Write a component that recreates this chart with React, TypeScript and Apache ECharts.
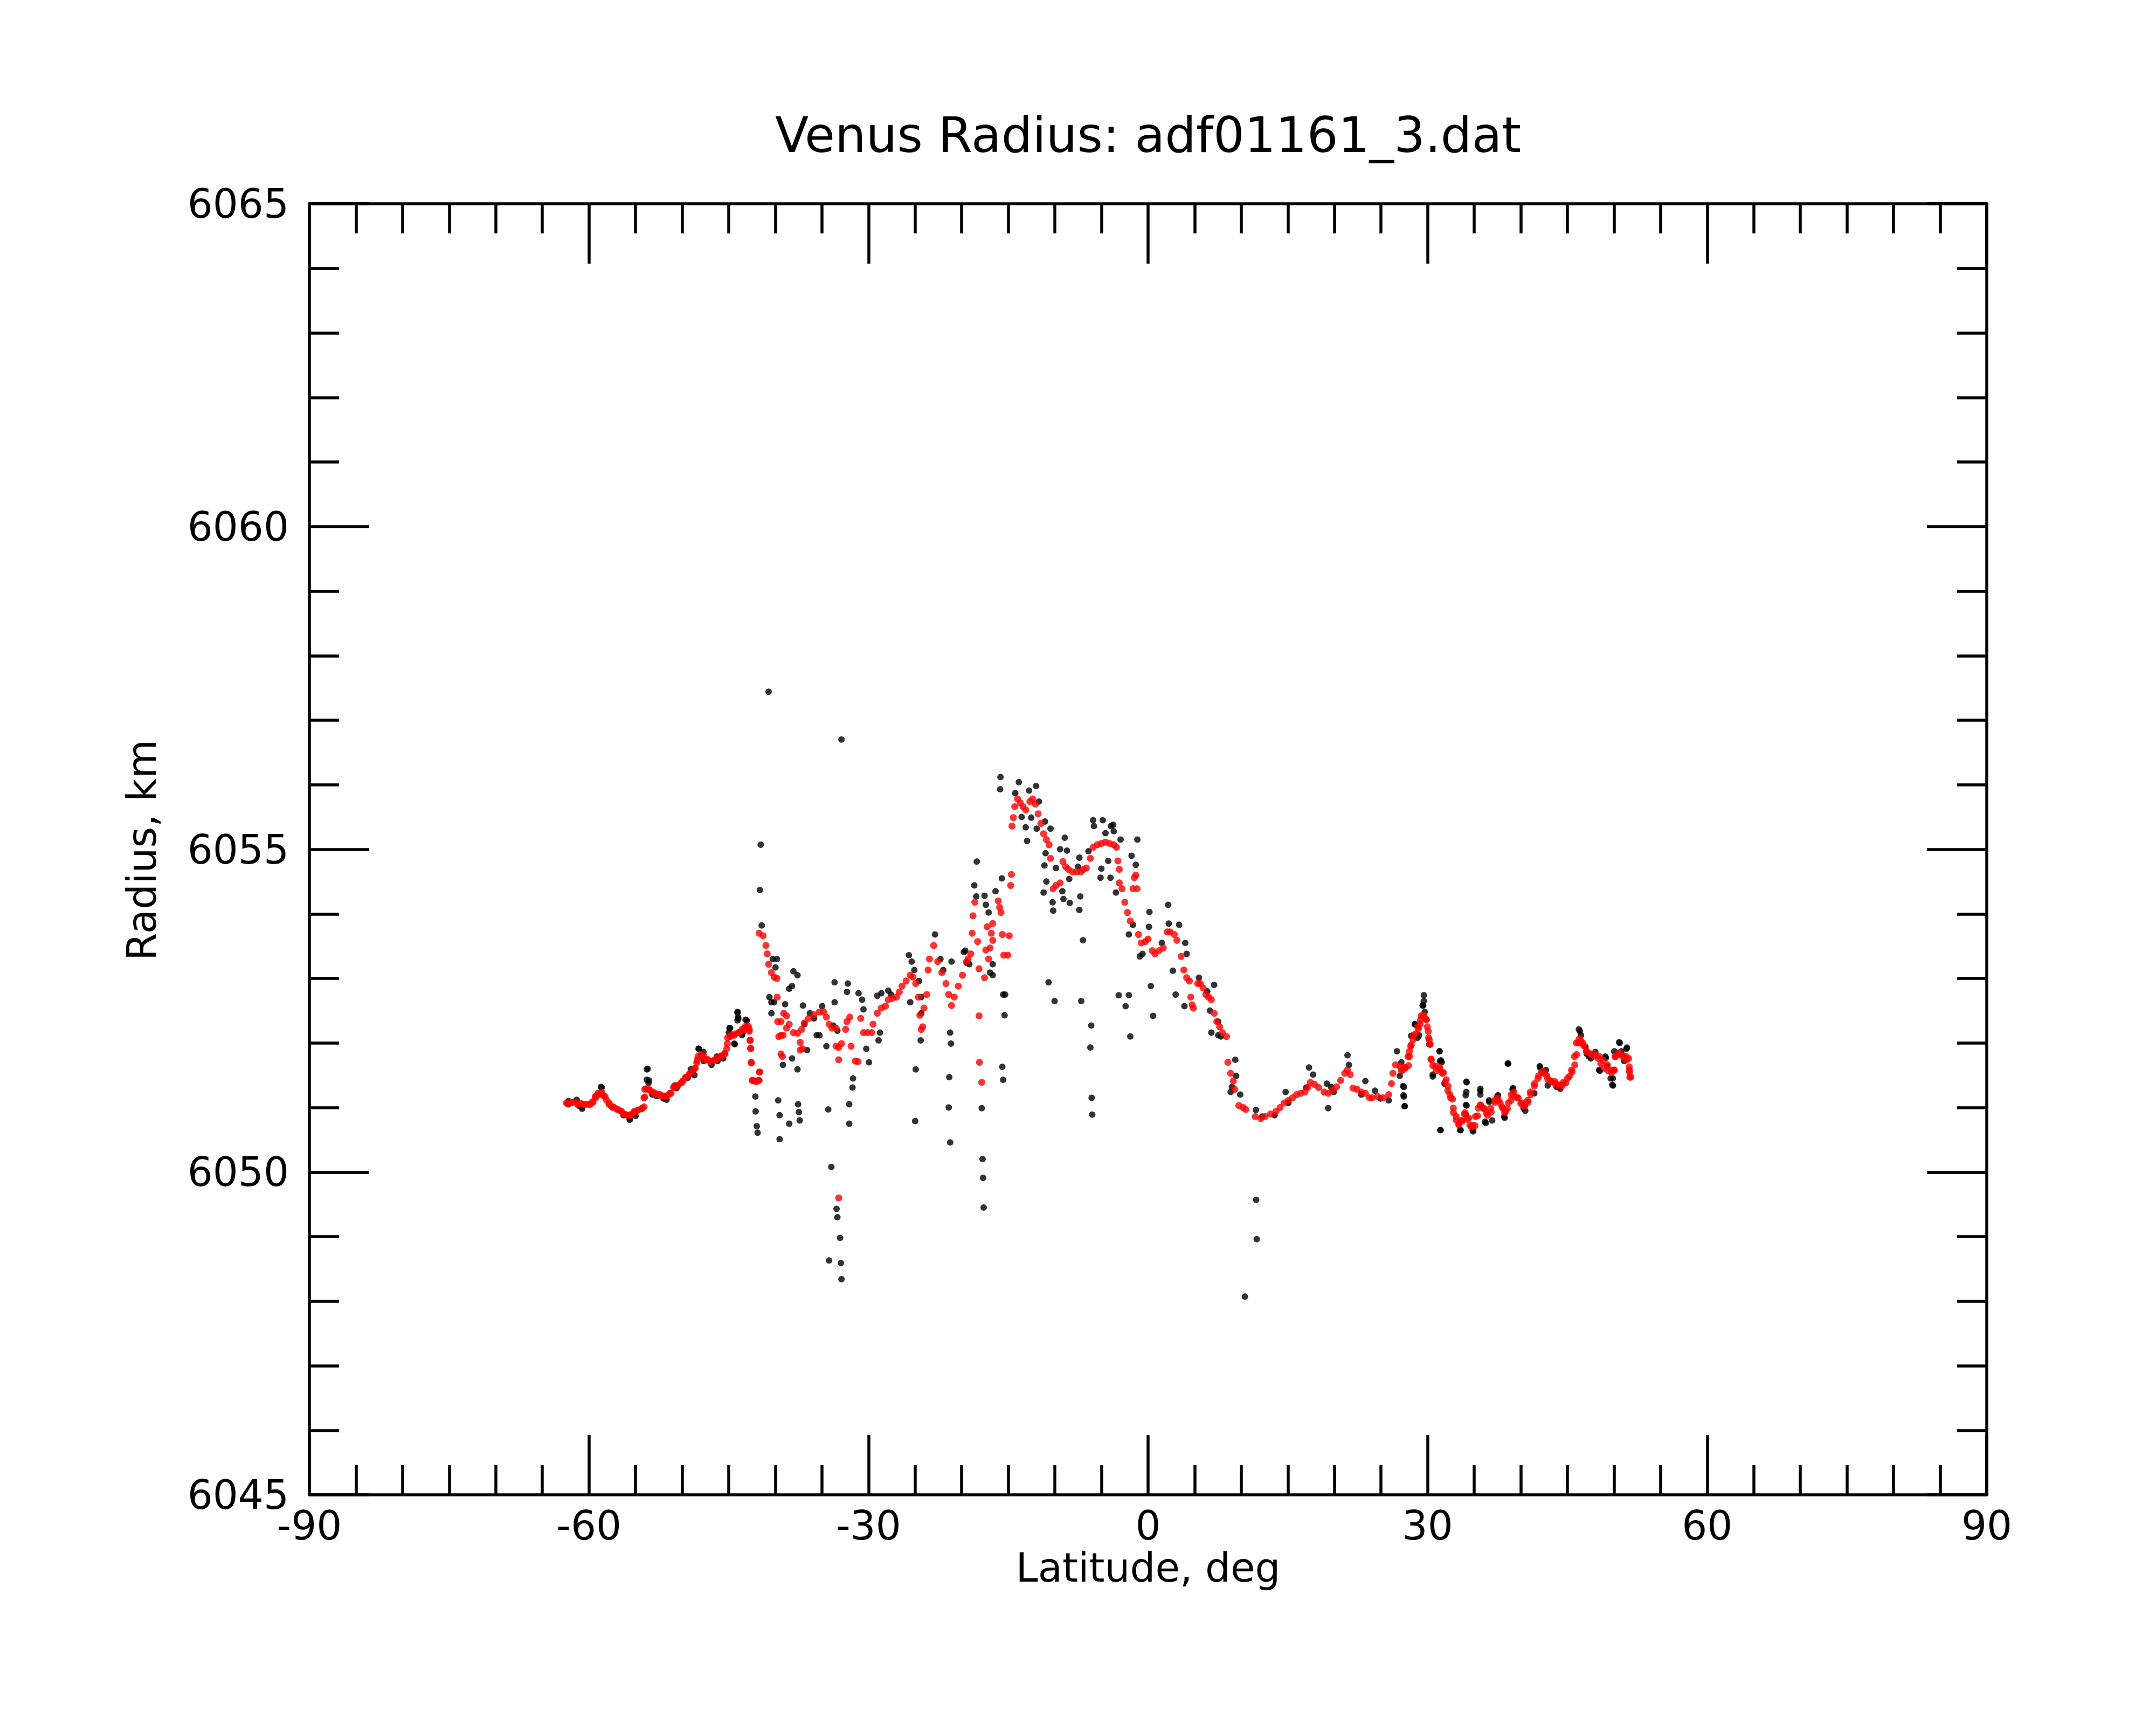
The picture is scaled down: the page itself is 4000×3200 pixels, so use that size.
import React, { useEffect, useRef } from "react";
import * as echarts from "echarts";

const titleText = "Venus Radius: adf01161_3.dat";
const xLabel = "Latitude, deg";
const yLabel = "Radius, km";

// Red (smoothed) trace, [latitude, radius]
const redSouth: number[][] = [
  [-62.41,6051.07],[-61.82,6051.08],[-61.23,6051.05],[-60.64,6051.05],[-60.05,6051.05],[-59.61,6051.09],[-59.31,6051.17],[-59.02,6051.22],[-58.63,6051.24],[-58.28,6051.17],[-57.84,6051.07],[-57.39,6051.01],[-56.95,6050.97],[-56.51,6050.94],[-56.06,6050.89],[-55.62,6050.88],[-55.18,6050.92],[-54.74,6050.96],[-54.29,6050.99],[-54.09,6051.15],[-54.0,6051.28],[-53.56,6051.28],[-52.97,6051.22],[-52.38,6051.2],[-51.79,6051.17],[-51.34,6051.22],[-50.9,6051.31],[-50.46,6051.34],[-50.01,6051.39],[-49.57,6051.47],[-49.13,6051.53],[-48.69,6051.6],[-48.39,6051.73],[-47.95,6051.79],[-47.51,6051.74],[-47.06,6051.72],[-46.47,6051.74],[-45.88,6051.79],[-45.44,6051.84],[-45.15,6051.99],[-44.85,6052.1],[-44.41,6052.12],[-43.82,6052.16],[-43.38,6052.21],[-43.08,6052.25],[-42.79,6052.21],[-42.7,6052.04],[-42.64,6051.91],[-42.58,6051.7],[-42.49,6051.42],[-42.2,6051.41],[-41.81,6051.42],[-41.69,6051.55]
];

const redSouthB: number[][] = [
  [-62.28,6051.06],[-61.79,6051.08],[-61.31,6051.07],[-60.83,6051.06],[-60.35,6051.05],[-59.87,6051.05],[-59.58,6051.08],[-59.29,6051.15],[-59.0,6051.2],[-58.71,6051.21],[-58.42,6051.18],[-58.13,6051.12],[-57.84,6051.05],[-57.45,6051.0],[-57.07,6050.98],[-56.66,6050.95],[-56.3,6050.9],[-55.91,6050.88],[-55.53,6050.89],[-55.14,6050.94],[-54.76,6050.96],[-54.37,6050.98],[-54.08,6051.01],[-54.02,6051.16],[-53.89,6051.29],[-53.5,6051.27],[-53.12,6051.24],[-52.73,6051.21],[-52.35,6051.19],[-51.96,6051.18],[-51.57,6051.18],[-51.19,6051.22],[-50.9,6051.32],[-50.51,6051.34],[-50.13,6051.38],[-49.94,6051.41],[-49.65,6051.46],[-49.26,6051.51],[-48.88,6051.55],[-48.59,6051.61],[-48.43,6051.69],[-48.3,6051.79],[-48.01,6051.82],[-47.72,6051.81],[-47.33,6051.75],[-46.95,6051.72],[-46.56,6051.73],[-46.18,6051.77],[-45.79,6051.8],[-45.41,6051.83],[-45.21,6051.91],[-45.12,6052.08],[-44.73,6052.12],[-44.35,6052.14],[-43.96,6052.16],[-43.57,6052.21],[-43.19,6052.26],[-42.9,6052.26],[-42.8,6052.18],[-42.71,6052.04],[-42.65,6051.92],[-42.57,6051.69],[-42.42,6051.42],[-42.03,6051.4],[-41.74,6051.42],[-41.68,6051.55]
];

const redRough: number[][] = [
  [-41.75,6053.7],[-41.31,6053.66],[-41.01,6053.51],[-40.87,6053.38],[-40.72,6053.22],[-40.42,6053.09],[-40.13,6053.02],[-39.83,6053.0],[-39.8,6052.71],[-39.75,6052.33],[-39.63,6052.1],[-39.39,6051.83],[-39.39,6052.33],[-39.1,6052.46],[-38.8,6052.42],[-38.51,6052.29],[-38.06,6052.16],[-37.62,6052.15],[-37.18,6052.21],[-36.88,6052.31],[-36.44,6052.38],[-35.85,6052.44],[-35.26,6052.48],[-34.82,6052.48],[-34.52,6052.4],[-34.23,6052.29],[-33.93,6052.23],[-33.49,6052.23],
  [-39.39,6052.12],[-39.16,6052.12],[-39.24,6051.79],[-38.8,6052.23],[-37.33,6052.01],[-37.09,6051.91],[-37.33,6051.89],[-33.49,6051.95],[-33.2,6051.93],[-33.2,6051.74],[-32.9,6051.99],[-32.46,6052.21],[-32.31,6052.33],[-32.01,6052.4],[-31.87,6051.95],[-31.42,6051.72],[-31.13,6051.71],[-30.83,6052.38],[-30.54,6052.16],[-30.1,6052.16],[-29.65,6052.16],[-33.2,6049.6],
  [-29.51,6052.29],[-29.06,6052.46],[-28.62,6052.54],[-28.18,6052.57],[-27.88,6052.67],[-27.44,6052.69],[-27.0,6052.71],[-26.7,6052.79],[-26.41,6052.88],[-25.96,6052.96],[-25.52,6053.05],[-25.23,6053.02],[-24.93,6052.92],[-24.64,6052.71],[-24.49,6052.43],[-24.34,6052.21],[-24.19,6052.25],[-24.05,6052.54],[-23.75,6052.75],[-23.6,6053.13],[-23.46,6053.3],[-23.01,6053.51],[-22.57,6053.26],[-22.13,6053.09],[-21.69,6052.92],[-21.39,6052.75],[-21.09,6052.58],[-20.8,6052.71],[-20.36,6052.88],[-19.92,6053.05],[-19.47,6053.26]
];

const redEquator: number[][] = [
  [-19.32,6053.3],[-19.03,6053.38],[-18.88,6053.7],[-18.79,6053.97],[-18.59,6054.18],[-18.29,6053.57],[-18.14,6053.15],[-18.14,6052.42],[-18.09,6051.7],[-17.85,6051.39],[-17.55,6053.01],[-17.41,6053.44],[-17.26,6053.8],[-16.96,6053.47],[-16.82,6053.7],[-17.11,6053.3],[-16.67,6053.59],[-16.67,6053.85],[-16.08,6054.2],[-15.93,6054.1],[-15.78,6054.02],[-15.64,6053.68],[-15.49,6053.36],[-15.05,6053.36],[-14.9,6053.66],[-14.75,6054.44],[-14.66,6054.61],[-14.6,6055.36],[-14.46,6055.49],[-14.31,6055.66],[-14.01,6055.78],[-13.72,6055.72],[-13.42,6055.66],[-13.13,6055.61],[-12.68,6055.74],[-12.39,6055.78],[-12.09,6055.7],[-11.8,6055.55],[-11.5,6055.4],[-11.21,6055.24],[-10.91,6055.15],[-10.62,6055.07],[-10.47,6054.86],[-10.18,6054.39],[-9.88,6054.44],[-9.44,6054.48],[-9.14,6054.81],[-8.85,6054.73],[-8.55,6054.69],[-8.11,6054.65],[-7.67,6054.65],[-7.22,6054.65],[-6.93,6054.69],[-6.63,6054.71],[-6.19,6054.86],[-5.9,6055.03],[-5.45,6055.07],[-5.01,6055.09],[-4.57,6055.11],[-4.13,6055.09],[-3.68,6055.07],[-3.39,6055.03],[-3.24,6054.82],[-3.09,6054.69],[-3.09,6054.48],[-2.8,6054.39],[-2.5,6054.18],[-2.21,6054.02],[-1.91,6053.89],[-1.62,6054.39],[-1.47,6054.56],[-1.32,6054.6],[-1.18,6054.39],[-1.03,6053.68],[-0.73,6053.55],[-0.29,6053.57],[0.0,6053.61],[0.45,6053.43],[0.74,6053.38],[1.19,6053.43],[1.63,6053.47],[2.07,6053.72],[2.37,6053.72],[2.81,6053.68],[3.1,6053.59],[3.55,6053.34],[3.84,6053.13],[4.14,6053.01],[4.43,6052.96],[4.58,6052.71],[4.73,6052.59],[4.87,6052.54],[5.32,6052.92],[5.61,6052.92],[5.91,6052.85],[6.2,6052.75],[6.5,6052.71],[6.79,6052.67],[7.09,6052.46],[7.38,6052.33],[7.68,6052.25],[7.97,6052.16],[8.42,6052.1],[8.56,6051.7],[8.86,6051.53],[9.15,6051.41],[9.3,6051.28],[9.74,6051.03],[10.19,6051.0],[10.48,6050.97],[11.51,6050.86],[12.1,6050.83],[12.55,6050.86],[13.14,6050.9],[13.73,6050.94],[14.17,6051.0],[14.61,6051.07],[15.06,6051.11],[15.5,6051.15],[15.94,6051.2],[16.38,6051.22],[16.83,6051.24],[17.12,6051.31],[17.42,6051.39],[17.86,6051.36],[18.3,6051.31],[18.89,6051.24],[19.33,6051.22],[19.78,6051.26],[20.22,6051.32],[20.66,6051.42],[21.1,6051.53],[21.4,6051.58],[21.69,6051.51],[21.99,6051.3],[22.43,6051.28],[22.88,6051.24],[23.32,6051.22],[23.76,6051.15]
];

const redNorth: number[][] = [
  [24.06,6051.15],[24.65,6051.17],[25.24,6051.15],[25.83,6051.2],[26.12,6051.37],[26.27,6051.53],[26.56,6051.66],[27.01,6051.64],[27.3,6051.58],[27.6,6051.62],[27.89,6051.79],[28.19,6051.95],[28.48,6052.12],[28.93,6052.25],[29.22,6052.35],[29.52,6052.42],[29.81,6052.37],[29.96,6052.25],[30.11,6052.08],[30.25,6051.98],[30.4,6051.74],[30.84,6051.64],[31.29,6051.62],[31.58,6051.53],[31.88,6051.39],[32.17,6051.26],[32.47,6051.15],[32.76,6050.99],[33.06,6050.86],[33.35,6050.75],[33.65,6050.8],[33.94,6050.9],[34.24,6050.82],[34.53,6050.73],[34.83,6050.72],[35.12,6050.86],[35.42,6050.99],[35.71,6051.03],[36.01,6050.99],[36.3,6050.92],[36.75,6050.99],[37.19,6051.11],[37.48,6051.15],[37.78,6051.07],[38.07,6050.99],[38.37,6050.94],[38.66,6051.07],[38.96,6051.2],[39.25,6051.24],[39.7,6051.15],[40.14,6051.07],[40.43,6051.03],[40.73,6051.11],[41.02,6051.24],[41.47,6051.37],[41.91,6051.49],[42.35,6051.56],[42.79,6051.49],[43.24,6051.41],[43.68,6051.37],[44.12,6051.35],[44.57,6051.39],[45.01,6051.45],[45.45,6051.58],[45.75,6051.79],[45.95,6052.0],[46.25,6052.06],[46.63,6052.0],[47.07,6051.87],[47.52,6051.83],[47.96,6051.83],[48.4,6051.79],[48.84,6051.73],[49.29,6051.66],[49.73,6051.58],[50.02,6051.58],[50.17,6051.79],[50.61,6051.83],[51.06,6051.79],[51.35,6051.74],[51.65,6051.58],[51.8,6051.47]
];

const redNorthB: number[][] = [
  [27.18,6051.57],[27.57,6051.61],[27.95,6051.65],[28.05,6051.79],[28.05,6051.87],[28.24,6051.97],[28.43,6052.05],[28.72,6052.14],[29.01,6052.22],[29.2,6052.29],[29.3,6052.42],[29.59,6052.43],[29.88,6052.36],[30.07,6052.18],[30.17,6052.05],[30.26,6051.98],[30.36,6051.75],[30.55,6051.65],[30.94,6051.57],[31.33,6051.59],[31.71,6051.54],[32.0,6051.43],[32.19,6051.33],[32.39,6051.2],[32.67,6051.13],[32.77,6050.92],[33.06,6050.81],[33.35,6050.73],[33.74,6050.79],[34.02,6050.92],[34.41,6050.84],[34.7,6050.7],[35.08,6050.72],[35.37,6050.87],[35.66,6051.04],[36.05,6050.98],[36.43,6050.88],[36.82,6050.93],[37.21,6051.08],[37.59,6051.11],[37.98,6051.01],[38.27,6050.92],[38.56,6050.98],[38.94,6051.11],[39.23,6051.19],[39.62,6051.15],[40.0,6051.06],[40.39,6051.02],[40.77,6051.08],[41.06,6051.2],[41.45,6051.33],[41.83,6051.45],[42.22,6051.54],[42.6,6051.52],[42.89,6051.44],[43.28,6051.4],[43.66,6051.4],[44.05,6051.34],[44.44,6051.34],[44.82,6051.38],[45.21,6051.48],[45.5,6051.55],[45.79,6051.66],[45.98,6051.82],[46.17,6052.0],[46.46,6052.03],[46.75,6051.96],[47.04,6051.87],[47.42,6051.83],[47.91,6051.8],[48.29,6051.76],[48.58,6051.68],[48.97,6051.61],[49.35,6051.57],[49.74,6051.54],[50.03,6051.58],[50.12,6051.79],[50.51,6051.84],[50.89,6051.8],[51.28,6051.79],[51.57,6051.76],[51.63,6051.63],[51.67,6051.55],[51.7,6051.47]
];

// Black (raw) points, [latitude, radius]
const blackSouth: number[][] = [
  [-62.2,6051.05],[-61.0,6051.02],[-60.79,6051.01],[-59.2,6051.18],[-58.63,6051.31],[-57.6,6051.02],[-56.3,6050.88],[-55.62,6050.82],[-55.0,6050.87],[-53.7,6051.6],[-53.56,6051.42],[-53.2,6051.2],[-52.0,6051.14],[-50.6,6051.3],[-49.4,6051.46],[-48.83,6051.53],[-48.24,6051.91],[-47.7,6051.72],[-46.2,6051.72],[-45.6,6051.76],[-44.99,6052.16],[-44.85,6052.23],[-44.41,6051.99],[-44.05,6052.48],[-43.97,6052.38],[-43.52,6052.15],[-43.08,6052.35],
  [-42.14,6051.17],[-42.11,6050.94],[-41.99,6050.71],[-41.9,6050.61],[-41.57,6055.07],[-41.66,6054.37],[-41.46,6053.82],[-40.72,6057.44],[-40.28,6053.3],[-39.83,6053.3],[-39.98,6053.17],[-40.63,6052.71],[-40.42,6052.63],[-40.42,6052.46],[-40.13,6052.63],[-38.95,6052.6],[-38.51,6052.84],[-38.21,6052.88],[-38.06,6053.11],[-37.62,6053.05],[-37.03,6052.58],[-36.29,6052.46],[-35.85,6052.38],[-34.97,6052.57],[-35.26,6052.12],[-34.52,6051.95],[-39.69,6051.11],[-39.54,6050.88],[-39.54,6050.51],[-38.51,6050.75],[-37.56,6051.05],[-37.47,6050.93],[-37.38,6050.8],[-37.62,6051.59],[-38.21,6051.76],[-39.19,6051.66],[-35.56,6052.12],[-36.88,6052.29],[-36.59,6051.89],
  [-34.32,6050.97],[-33.99,6050.08],[-33.43,6049.43],[-33.34,6049.3],[-33.05,6048.98],[-34.23,6048.63],[-32.96,6048.59],[-32.9,6048.34],[-32.9,6056.7],[-32.07,6051.05],[-32.07,6050.75],[-31.72,6051.31],[-31.66,6051.45],[-33.64,6052.94],[-33.64,6052.63],[-32.22,6052.92],[-32.31,6052.79],[-31.07,6052.77],[-30.69,6052.67],[-30.54,6052.52],[-30.24,6051.91],[-29.95,6051.7],[-33.78,6052.27],[-33.34,6052.19],
  [-28.77,6052.16],[-28.92,6052.04],[-28.62,6052.77],[-29.06,6052.73],[-27.88,6052.81],[-27.59,6052.75],[-25.67,6053.36],[-25.37,6053.26],[-25.08,6053.13],[-24.58,6052.96],[-24.34,6052.71],[-24.34,6052.46],[-24.4,6052.04],[-25.52,6052.63],[-24.93,6051.59],[-24.99,6050.79],[-22.86,6053.68],[-22.28,6053.3],[-21.98,6053.13],[-21.24,6052.16],[-21.15,6051.99],[-21.33,6051.47],[-21.39,6051.0],[-21.24,6050.46],[-21.09,6053.26],[-19.77,6053.41],[-19.47,6053.24]
];

const blackSouthB: number[][] = [
  [-62.18,6051.1],[-61.31,6051.12],[-60.73,6050.98],[-58.71,6051.32],[-55.62,6050.81],[-53.79,6051.59],[-53.79,6051.43],[-53.6,6051.38],[-52.73,6051.18],[-51.67,6051.12],[-50.8,6051.34],[-49.07,6051.59],[-48.68,6051.5],[-48.2,6051.91],[-47.72,6051.86],[-46.85,6051.66],[-46.27,6051.79],[-44.92,6052.23],[-44.06,6052.47],[-44.0,6052.4],[-44.06,6052.35],[-44.35,6051.98],[-43.19,6052.36],[-43.57,6052.12]
];

const blackEquator: number[][] = [
  [-19.62,6053.43],[-19.18,6053.22],[-18.38,6054.81],[-18.65,6054.44],[-18.44,6054.27],[-17.55,6054.28],[-17.41,6054.14],[-17.11,6054.02],[-16.96,6053.09],[-16.67,6053.22],[-16.67,6053.05],[-16.37,6054.35],[-15.69,6054.55],[-17.85,6050.99],[-17.76,6050.2],[-17.7,6049.91],[-17.64,6049.45],[-15.55,6052.75],[-15.34,6052.75],[-15.4,6052.43],[-15.64,6051.63],[-15.55,6051.43],[-15.84,6056.12],[-15.87,6055.93],
  [-13.87,6056.04],[-14.25,6055.87],[-13.57,6055.5],[-13.13,6055.34],[-12.98,6055.13],[-12.77,6055.91],[-12.01,6055.98],[-11.71,6055.74],[-12.54,6055.49],[-11.95,6055.32],[-11.06,6055.43],[-10.47,6055.32],[-11.0,6054.94],[-11.12,6054.75],[-10.91,6054.5],[-11.21,6054.33],[-10.24,6054.18],[-10.18,6054.05],[-9.88,6054.71],[-9.44,6055.0],[-9.2,6054.35],[-8.94,6055.18],[-8.7,6054.98],[-8.46,6054.54],[-9.08,6054.23],[-8.41,6054.17],[-7.52,6054.73],[-7.28,6054.27],[-7.37,6054.06],[-7.37,6054.87],[-6.99,6053.59],[-6.4,6054.97],[-5.9,6055.45],[-5.81,6055.36],[-4.86,6055.45],[-4.57,6055.25],[-3.98,6055.36],[-3.74,6055.38],[-3.68,6055.28],[-4.27,6054.82],[-5.01,6054.7],[-5.1,6054.56],[-4.04,6054.56],[-3.45,6054.33],[-2.95,6055.15],[-1.77,6054.9],[-1.32,6054.76],[-1.15,6055.15],[-2.06,6053.68],[-1.62,6053.83],
  [-3.15,6052.74],[-2.06,6052.74],[-2.41,6052.57],[-1.91,6052.1],[-10.68,6052.94],[-10.03,6052.65],[-7.17,6052.65],[-6.1,6052.27],[-6.19,6051.93],[-6.05,6051.15],[-5.99,6050.89],[0.15,6054.03],[0.09,6053.8],[0.3,6052.88],[0.54,6052.42],[-0.88,6053.34],[-0.59,6053.38],[1.48,6053.55],[2.22,6053.85],[2.16,6054.14],[2.66,6053.12],[2.96,6052.75],[3.9,6052.57],[3.99,6053.55],[4.14,6053.38],[3.34,6053.83],[5.46,6053.01],[6.35,6052.8],[7.09,6052.9],[6.64,6052.5],[6.79,6052.16],[7.53,6052.12],[7.53,6052.33],[7.82,6052.1],[9.36,6051.74],[9.45,6051.49],[8.86,6051.24],[9.0,6051.32],[9.89,6051.2],
  [11.57,6050.96],[11.6,6049.57],[11.66,6048.96],[10.39,6048.07],[12.25,6050.86],[13.58,6050.88],[14.76,6051.24],[15.06,6051.07],[16.97,6051.31],[17.27,6051.62],[17.71,6051.51],[19.19,6051.37],[19.33,6050.99],[19.63,6051.32],[19.92,6051.24],[21.4,6051.81],[21.55,6051.66],[22.88,6051.2],[23.32,6051.41]
];

const blackNorth: number[][] = [
  [24.35,6051.26],[24.94,6051.14],[25.83,6051.11],[26.71,6051.87],[27.01,6051.49],[27.45,6051.32],[27.45,6051.17],[27.54,6051.02],[28.63,6052.29],[29.07,6052.12],[29.6,6052.74],[29.52,6052.58],[30.55,6051.51],[31.29,6051.87],[31.43,6051.73],[31.37,6050.65],[33.5,6050.65],[34.18,6051.39],[34.15,6051.24],[34.18,6051.03],[34.09,6050.89],[34.83,6050.65],[35.65,6051.26],[36.16,6050.78],[36.6,6051.09],[37.48,6051.17],[38.22,6050.86],[38.6,6051.68],[39.11,6051.28],[40.29,6050.99],[42.06,6051.62],[43.83,6051.32],[46.34,6052.18],[47.07,6051.83],[47.31,6051.79],[48.4,6051.58],[49.14,6051.77],[49.88,6051.45],[49.82,6051.35],[50.61,6052.0],[51.35,6051.91]
];

const blackNorthB: number[][] = [
  [29.59,6052.65],[29.46,6052.58],[29.69,6052.48],[28.63,6052.29],[28.24,6052.11],[28.92,6052.08],[30.17,6051.98],[31.27,6051.87],[31.33,6051.72],[31.52,6051.7],[30.55,6051.48],[31.81,6051.37],[27.18,6051.7],[27.37,6051.33],[27.41,6051.19],[27.53,6051.02],[31.38,6050.65],[33.54,6050.65],[34.16,6051.4],[34.08,6051.19],[34.12,6051.04],[34.89,6050.63],[35.66,6051.29],[35.66,6051.2],[36.59,6051.11],[36.24,6050.76],[36.92,6050.8],[37.55,6051.19],[38.27,6050.84],[38.65,6051.68],[39.17,6051.3],[40.48,6050.95],[41.45,6051.22],[42.03,6051.64],[42.7,6051.58],[42.89,6051.34],[44.24,6051.29],[46.23,6052.21],[46.46,6052.12],[46.94,6051.94],[48.0,6051.86],[47.52,6051.76],[49.06,6051.79],[48.48,6051.57],[49.26,6051.64],[49.64,6051.45],[49.89,6051.34],[50.55,6052.01],[51.38,6051.93],[50.03,6051.87],[51.09,6051.72],[50.8,6051.87]
];

const FONT = "'DejaVu Sans', 'Liberation Sans', sans-serif";
const LW = 5.5;

function xAxisCfg(position: "bottom" | "top", showLabel: boolean) {
  return {
    type: "value",
    position,
    min: -90,
    max: 90,
    interval: 30,
    axisLine: { show: true, onZero: false, lineStyle: { color: "#000", width: LW } },
    axisTick: { show: true, inside: true, length: 111, lineStyle: { color: "#000", width: LW } },
    minorTick: { show: true, splitNumber: 6, length: 55, lineStyle: { color: "#000", width: LW } },
    splitLine: { show: false },
    minorSplitLine: { show: false },
    axisLabel: { show: showLabel, fontSize: 74, color: "#000", fontFamily: FONT, margin: 20, formatter: (v: number) => String(v) },
  };
}

function yAxisCfg(position: "left" | "right", showLabel: boolean) {
  return {
    type: "value",
    position,
    min: 6045,
    max: 6065,
    interval: 5,
    axisLine: { show: true, onZero: false, lineStyle: { color: "#000", width: LW } },
    axisTick: { show: true, inside: true, length: 111, lineStyle: { color: "#000", width: LW } },
    minorTick: { show: true, splitNumber: 5, length: 55, lineStyle: { color: "#000", width: LW } },
    splitLine: { show: false },
    minorSplitLine: { show: false },
    axisLabel: { show: showLabel, fontSize: 74, color: "#000", fontFamily: FONT, margin: 38, formatter: (v: number) => String(v) },
  };
}

export default function App() {
  const ref = useRef<HTMLDivElement>(null);
  useEffect(() => {
    document.body.style.margin = "0";
    const chart = echarts.init(ref.current as HTMLDivElement, null, { renderer: "svg" });
    const black = [...blackSouth, ...blackSouthB, ...blackEquator, ...blackNorth, ...blackNorthB];
    const red = [...redSouth, ...redSouthB, ...redRough, ...redEquator, ...redNorth, ...redNorthB];
    chart.setOption({
      animation: false,
      backgroundColor: "#ffffff",
      grid: { left: 574, right: 314, top: 378, bottom: 427, containLabel: false },
      xAxis: [xAxisCfg("bottom", true), xAxisCfg("top", false)],
      yAxis: [yAxisCfg("left", true), yAxisCfg("right", false)],
      series: [
        {
          type: "scatter",
          name: "raw",
          xAxisIndex: 0,
          yAxisIndex: 0,
          data: black,
          symbol: "circle",
          symbolSize: 12,
          itemStyle: { color: "#000000" },
          silent: true,
        },
        {
          type: "scatter",
          name: "smoothed",
          xAxisIndex: 0,
          yAxisIndex: 0,
          data: red,
          symbol: "circle",
          symbolSize: 13,
          itemStyle: { color: "#ff0000" },
          silent: true,
        },
      ],
      graphic: [
        {
          type: "text",
          x: 2130,
          y: 250,
          style: { text: titleText, fontSize: 91, fontFamily: FONT, fill: "#000", align: "center", verticalAlign: "middle", textAlign: "center", textVerticalAlign: "middle" },
        },
        {
          type: "text",
          x: 2130,
          y: 2908,
          style: { text: xLabel, fontSize: 74, fontFamily: FONT, fill: "#000", align: "center", verticalAlign: "middle", textAlign: "center", textVerticalAlign: "middle" },
        },
        {
          type: "text",
          x: 263,
          y: 1577,
          rotation: Math.PI / 2,
          style: { text: yLabel, fontSize: 74, fontFamily: FONT, fill: "#000", align: "center", verticalAlign: "middle", textAlign: "center", textVerticalAlign: "middle" },
        },
      ],
    });
    return () => chart.dispose();
  }, []);
  return (
    <div
      ref={ref}
      style={{ position: "absolute", left: 0, top: 0, width: 4000, height: 3200, background: "#fff" }}
    />
  );
}
